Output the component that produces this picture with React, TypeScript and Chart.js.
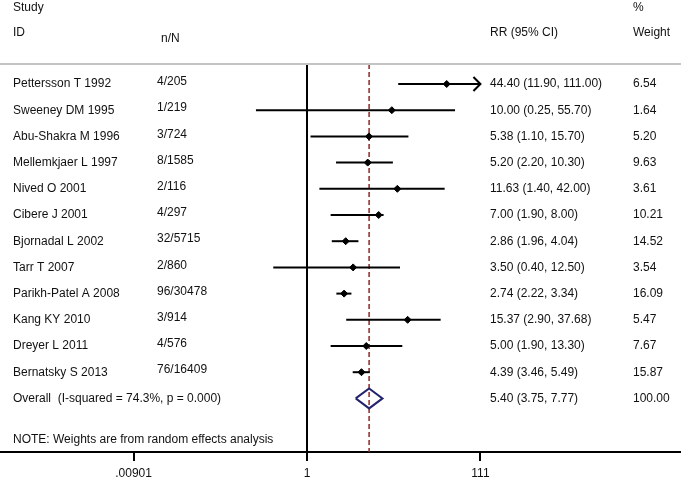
import React, { useEffect, useRef } from 'react';
import { Chart, registerables } from 'chart.js';

Chart.register(...registerables);

// ---------------- data ----------------
const studies = [
  'Pettersson T 1992',
  'Sweeney DM 1995',
  'Abu-Shakra M 1996',
  'Mellemkjaer L 1997',
  'Nived O 2001',
  'Cibere J 2001',
  'Bjornadal L 2002',
  'Tarr T 2007',
  'Parikh-Patel A 2008',
  'Kang KY 2010',
  'Dreyer L 2011',
  'Bernatsky S 2013',
];
const nN = ['4/205', '1/219', '3/724', '8/1585', '2/116', '4/297', '32/5715', '2/860', '96/30478', '3/914', '4/576', '76/16409'];
const rr = [44.4, 10.0, 5.38, 5.2, 11.63, 7.0, 2.86, 3.5, 2.74, 15.37, 5.0, 4.39];
const ciLow = [11.9, 0.25, 1.1, 2.2, 1.4, 1.9, 1.96, 0.4, 2.22, 2.9, 1.9, 3.46];
const ciHigh = [111.0, 55.7, 15.7, 10.3, 42.0, 8.0, 4.04, 12.5, 3.34, 37.68, 13.3, 5.49];
const weights = ['6.54', '1.64', '5.20', '9.63', '3.61', '10.21', '14.52', '3.54', '16.09', '5.47', '7.67', '15.87'];

const overallLabel = 'Overall  (I-squared = 74.3%, p = 0.000)';
const overallRR = 5.4;
const overallLow = 3.75;
const overallHigh = 7.77;
const overallWeight = '100.00';
const noteText = 'NOTE: Weights are from random effects analysis';

const xTickValues = [0.00901, 1, 111];
const xTickLabels = ['.00901', '1', '111'];

// ---------------- layout / style ----------------
const W = 681;
const H = 481;
const ROW_PX = 26.2;
const FIRST_ROW_PX = 84;
const AREA_BOTTOM_PX = 452;
const Y_MIN = -FIRST_ROW_PX / ROW_PX;
const Y_MAX = Y_MIN + AREA_BOTTOM_PX / ROW_PX;
const X_PX_PER_DECADE = 84.8;
const X_NULL_PX = 307;
const X_MIN = Math.pow(10, -X_NULL_PX / X_PX_PER_DECADE);
const X_MAX = Math.pow(10, (W - X_NULL_PX) / X_PX_PER_DECADE);

const HEADER_RULE_ROW = (64 - FIRST_ROW_PX) / ROW_PX;
const NOTE_ROW = (440 - FIRST_ROW_PX) / ROW_PX;
const HEAD1_ROW = (8 - FIRST_ROW_PX) / ROW_PX;
const HEAD2_ROW = (33 - FIRST_ROW_PX) / ROW_PX;
const HEAD_NN_ROW = (39 - FIRST_ROW_PX) / ROW_PX;
const DIAMOND_HALF = 10 / ROW_PX;

const COL_STUDY = 13;
const COL_NN = 157;
const COL_NN_HEAD = 161;
const COL_RR = 490;
const COL_W = 633;

const FONT_FAMILY = "'Liberation Sans', Arial, sans-serif";
const TEXT_COLOR = '#111';

const fmt = (v: number) => v.toFixed(2);

const textPlugin = {
  id: 'forestText',
  afterDatasetsDraw(chart: any) {
    const ctx = chart.ctx as CanvasRenderingContext2D;
    const ys = chart.scales.y;
    const xs = chart.scales.x;
    const area = chart.chartArea;
    ctx.save();
    // header rule
    ctx.strokeStyle = '#c4c4c4';
    ctx.lineWidth = 2;
    ctx.beginPath();
    const ry = ys.getPixelForValue(HEADER_RULE_ROW);
    ctx.moveTo(area.left, ry);
    ctx.lineTo(area.right, ry);
    ctx.stroke();

    // arrows for CIs beyond the axis range
    const maxTick = xTickValues[xTickValues.length - 1];
    ctx.strokeStyle = '#000';
    ctx.lineWidth = 2;
    ciHigh.forEach((h, i) => {
      if (h >= maxTick) {
        const px = xs.getPixelForValue(Math.min(h, maxTick));
        const py = ys.getPixelForValue(i);
        ctx.beginPath();
        ctx.moveTo(px - 7, py - 7);
        ctx.lineTo(px, py);
        ctx.lineTo(px - 7, py + 7);
        ctx.stroke();
      }
    });

    ctx.fillStyle = TEXT_COLOR;
    ctx.font = `12px ${FONT_FAMILY}`;
    ctx.textBaseline = 'middle';
    ctx.textAlign = 'left';
    const put = (t: string, x: number, row: number) => ctx.fillText(t, x, ys.getPixelForValue(row));

    put('Study', COL_STUDY, HEAD1_ROW);
    put('ID', COL_STUDY, HEAD2_ROW);
    put('n/N', COL_NN_HEAD, HEAD_NN_ROW);
    put('RR (95% CI)', COL_RR, HEAD2_ROW);
    put('%', COL_W, HEAD1_ROW);
    put('Weight', COL_W, HEAD2_ROW);

    studies.forEach((s, i) => {
      put(s, COL_STUDY, i);
      put(nN[i], COL_NN, i - 0.08);
      put(`${fmt(rr[i])} (${fmt(ciLow[i])}, ${fmt(ciHigh[i])})`, COL_RR, i);
      put(weights[i], COL_W, i);
    });
    const oRow = studies.length;
    put(overallLabel, COL_STUDY, oRow);
    put(`${fmt(overallRR)} (${fmt(overallLow)}, ${fmt(overallHigh)})`, COL_RR, oRow);
    put(overallWeight, COL_W, oRow);
    put(noteText, COL_STUDY, NOTE_ROW);
    ctx.restore();
  },
};

export default function App() {
  const ref = useRef<HTMLCanvasElement | null>(null);
  useEffect(() => {
    document.body.style.margin = '0';
    const canvas = ref.current;
    if (!canvas) return;
    const oRow = studies.length;

    const datasets: any[] = [];
    datasets.push({
      label: 'points',
      data: rr.map((v, i) => ({ x: v, y: i })),
      showLine: false,
      pointStyle: 'rectRot',
      pointRadius: 3.5,
      pointBackgroundColor: '#000',
      pointBorderColor: '#000',
      pointBorderWidth: 1,
      order: 0,
    });
    studies.forEach((_, i) => {
      datasets.push({
        label: `ci${i}`,
        data: [
          { x: ciLow[i], y: i },
          { x: Math.min(ciHigh[i], xTickValues[xTickValues.length - 1]), y: i },
        ],
        showLine: true,
        borderColor: '#000',
        borderWidth: 2,
        pointRadius: 0,
        order: 1,
      });
    });
    datasets.push({
      label: 'overall',
      data: [
        { x: overallLow, y: oRow },
        { x: overallRR, y: oRow - DIAMOND_HALF },
        { x: overallHigh, y: oRow },
        { x: overallRR, y: oRow + DIAMOND_HALF },
        { x: overallLow, y: oRow },
      ],
      showLine: true,
      borderColor: '#23236e',
      borderWidth: 2,
      pointRadius: 0,
      fill: false,
      tension: 0,
      order: 1,
    });
    datasets.push({
      label: 'null',
      data: [
        { x: 1, y: HEADER_RULE_ROW },
        { x: 1, y: Y_MAX },
      ],
      showLine: true,
      borderColor: '#000',
      borderWidth: 2,
      pointRadius: 0,
      order: 3,
    });
    datasets.push({
      label: 'overallLine',
      data: [
        { x: overallRR, y: HEADER_RULE_ROW },
        { x: overallRR, y: Y_MAX },
      ],
      showLine: true,
      borderColor: '#922626',
      borderWidth: 1.5,
      borderDash: [5, 3],
      pointRadius: 0,
      order: 2,
    });

    const chart = new Chart(canvas, {
      type: 'scatter',
      data: { datasets },
      options: {
        animation: false,
        responsive: false,
        maintainAspectRatio: false,
        layout: { autoPadding: false, padding: { left: 0, right: 0, top: 0, bottom: -6 } },
        plugins: { legend: { display: false }, tooltip: { enabled: false } },
        scales: {
          x: {
            type: 'logarithmic',
            min: X_MIN,
            max: X_MAX,
            position: 'bottom',
            afterBuildTicks: (s: any) => {
              s.ticks = xTickValues.map((v) => ({ value: v }));
            },
            ticks: {
              callback: (_v: any, i: number) => xTickLabels[i],
              color: TEXT_COLOR,
              font: { family: FONT_FAMILY, size: 12, lineHeight: 1.0 },
              padding: 7,
              maxRotation: 0,
              autoSkip: false,
            },
            grid: { display: true, drawOnChartArea: false, drawTicks: true, tickLength: 9, color: '#000', lineWidth: 2 },
            border: { display: true, color: '#000', width: 2 },
          },
          y: { type: 'linear', reverse: true, min: Y_MIN, max: Y_MAX, display: false },
        },
      } as any,
      plugins: [textPlugin],
    });
    return () => chart.destroy();
  }, []);
  return <canvas ref={ref} width={W} height={H} style={{ display: 'block' }} />;
}
